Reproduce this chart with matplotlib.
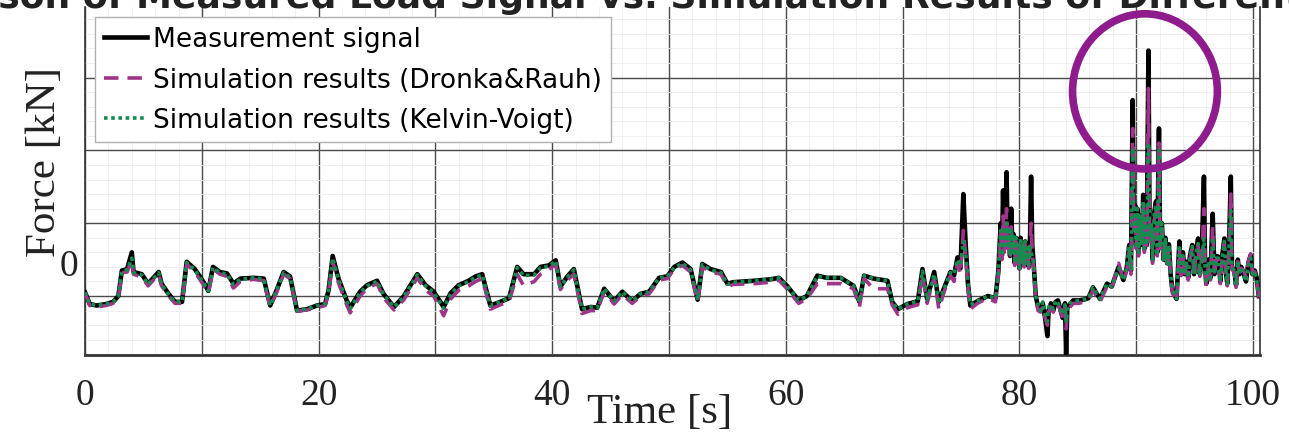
import numpy as np
import matplotlib.pyplot as plt
import matplotlib.transforms as mtransforms
from matplotlib.patches import Ellipse
from matplotlib.ticker import MultipleLocator, FuncFormatter

# time [s]
t = [0.0, 0.4, 1.0, 1.8, 2.4, 2.85, 3.15, 3.6, 4.0, 4.15, 4.85, 5.4, 5.85, 6.3, 6.55, 7.15, 7.7, 8.3, 8.7, 9.4,
     10.15, 10.55, 10.95, 11.55, 12.15, 12.7, 13.3, 14.4, 15.3, 15.85, 16.4, 17.0, 17.55, 18.15, 19.0, 19.85,
     20.55, 20.85, 21.2, 21.7, 22.4, 22.7, 23.55, 24.15, 25.0, 25.55, 26.45, 27.3, 27.6, 28.45, 29.15, 29.85,
     30.7, 31.3, 32.0, 32.85, 33.45, 34.0, 34.7, 35.55, 36.3, 37.0, 37.55, 38.45, 39.0, 39.7,
     40.3, 40.7, 41.3, 41.85, 42.55, 43.3, 43.85, 44.45, 45.3, 46.0, 46.85, 47.55, 48.3, 49.15, 49.85,
     50.45, 51.15, 51.85, 52.45, 52.85, 53.55, 54.45, 55.0, 55.5, 57.3, 58.7, 59.4,
     60.1, 61.1, 61.8, 62.7, 63.5, 64.7, 65.8, 66.3, 66.7, 67.5, 68.7, 69.1, 69.6,
     70.4, 71.3, 71.7, 72.1, 72.7, 73.1, 73.6, 74.1, 74.4, 74.7, 74.95, 75.2, 75.4, 75.6, 75.8, 76.4, 77.3, 77.95,
     78.2, 78.4, 78.5, 78.6, 78.7, 78.8, 78.9, 79.0, 79.1, 79.2, 79.3, 79.4, 79.5, 79.6, 79.7, 79.8, 79.9,
     80.0, 80.1, 80.2, 80.3, 80.4, 80.5, 80.6, 80.7, 80.8, 80.9, 81.0, 81.1, 81.2, 81.4, 81.6, 81.8,
     82.0, 82.2, 82.4, 82.5, 82.7, 82.9, 83.1, 83.3, 83.5, 83.7, 83.9, 84.0, 84.1, 84.3, 84.6,
     85.1, 85.5, 85.9, 86.3, 86.9, 87.5, 87.9, 88.5, 88.9, 89.2, 89.4, 89.55, 89.7, 89.8, 89.9,
     90.0, 90.1, 90.2, 90.35, 90.5, 90.6, 90.7, 90.8, 90.9, 91.05, 91.15, 91.3, 91.4, 91.55, 91.7, 91.8, 91.95,
     92.05, 92.2, 92.35, 92.5, 92.65, 92.8, 92.95, 93.1, 93.45, 93.7, 93.85, 94.0, 94.15, 94.3, 94.45, 94.6,
     94.8, 94.95, 95.1, 95.3, 95.45, 95.6, 95.8, 95.9, 96.0, 96.2, 96.35, 96.55, 96.7, 96.85, 97.05, 97.2,
     97.4, 97.55, 97.7, 97.8, 97.95, 98.1, 98.2, 98.4, 98.55, 98.7, 98.85, 99.0, 99.2, 99.4, 99.6, 99.8,
     99.95, 100.15, 100.3, 100.5]

# measurement signal
f_meas = [0.05, -0.11, -0.13, -0.11, -0.08, 0.0, 0.35, 0.37, 0.6, 0.33, 0.3, 0.17, 0.25, 0.33, 0.17, 0.03, -0.08, -0.08, 0.47, 0.37,
          0.19, 0.07, 0.4, 0.33, 0.31, 0.17, 0.24, 0.25, 0.24, -0.13, 0.08, 0.33, 0.27, -0.2, -0.18, -0.13,
          -0.11, 0.08, 0.55, 0.24, -0.06, -0.16, 0.06, 0.15, 0.21, 0.03, -0.15, 0.0, 0.08, 0.3, 0.15, 0.06,
          -0.15, 0.04, 0.15, 0.21, 0.27, 0.3, -0.13, -0.08, -0.03, 0.4, 0.3, 0.3, 0.4, 0.42,
          0.49, 0.13, 0.27, 0.37, -0.18, -0.15, -0.16, 0.1, -0.07, 0.06, -0.07, 0.03, 0.06, 0.25, 0.27,
          0.4, 0.46, 0.37, -0.05, 0.44, 0.37, 0.33, 0.17, 0.19, 0.21, 0.23, 0.25,
          0.14, -0.06, 0.0, 0.28, 0.25, 0.25, 0.14, -0.08, 0.28, 0.24, 0.21, -0.08, -0.18,
          -0.11, -0.07, 0.37, -0.04, 0.33, -0.08, 0.13, 0.33, 0.28, 0.53, 0.38, 1.4, 0.71, 0.16, -0.13, -0.07, 0.0, -0.03,
          0.35, 1.0, 0.55, 1.45, 0.7, 1.1, 1.7, 0.75, 0.95, 0.55, 1.2, 0.65, 0.85, 0.45, 0.8, 0.5, 0.75,
          0.38, 0.8, 0.48, 0.7, 0.42, 0.75, 0.5, 0.7, 0.4, 0.7, 1.64, 0.7, 0.49, 0.0, -0.15, -0.18,
          -0.1, -0.3, -0.55, -0.2, -0.1, -0.2, -0.08, -0.06, -0.18, -0.3, -0.1, -0.8, -0.15, -0.12, -0.06,
          -0.06, -0.05, -0.03, 0.12, -0.04, 0.17, 0.13, 0.4, 0.22, 0.4, 0.7, 0.35, 2.69, 0.9, 1.25,
          0.7, 1.2, 0.6, 1.1, 0.7, 1.39, 0.65, 1.1, 0.7, 3.37, 0.8, 1.0, 0.5, 1.15, 1.3, 0.6, 2.3,
          0.7, 1.0, 0.5, 0.8, 0.45, 0.71, 0.3, 0.08, -0.04, 0.75, 0.3, 0.6, 0.3, 0.47, 0.25, 0.55,
          0.7, 0.3, 0.6, 0.79, 0.3, 0.5, 1.64, 0.4, 0.17, 0.5, 0.25, 1.13, 0.3, 0.55, 0.54, 0.2,
          0.6, 0.79, 0.3, 0.17, 0.7, 1.64, 0.4, 0.35, 0.15, 0.5, 0.3, 0.4, 0.31, 0.2, 0.45, 0.56,
          0.3, 0.35, 0.26, 0.0]

# simulation (Dronka&Rauh)
f_dronka = [0.04, -0.13, -0.15, -0.13, -0.1, -0.02, 0.32, 0.33, 0.5, 0.3, 0.26, 0.14, 0.22, 0.3, 0.14, 0.0, -0.1, -0.1, 0.44, 0.33,
            0.15, 0.04, 0.37, 0.3, 0.27, 0.11, 0.2, 0.23, 0.21, -0.15, 0.05, 0.3, 0.24, -0.21, -0.19, -0.16,
            -0.13, 0.05, 0.48, 0.18, -0.12, -0.23, 0.0, 0.11, 0.17, -0.02, -0.19, -0.05, 0.03, 0.25, 0.08, 0.0,
            -0.27, -0.04, 0.08, 0.14, 0.2, 0.24, -0.18, -0.12, -0.08, 0.3, 0.14, 0.2, 0.3, 0.36,
            0.44, 0.09, 0.22, 0.3, -0.24, -0.2, -0.2, 0.06, -0.11, 0.02, -0.1, 0.0, 0.03, 0.22, 0.24,
            0.37, 0.42, 0.33, -0.08, 0.4, 0.33, 0.3, 0.13, 0.16, 0.17, 0.19, 0.22,
            0.1, -0.1, -0.04, 0.17, 0.17, 0.17, 0.1, -0.15, 0.24, 0.1, 0.1, -0.12, -0.25,
            -0.16, -0.12, 0.3, -0.1, 0.26, -0.18, 0.08, 0.28, 0.2, 0.45, 0.3, 0.9, 0.55, 0.1, -0.18, -0.1, -0.03, -0.08,
            0.3, 0.85, 0.5, 1.1, 0.6, 0.9, 1.2, 0.65, 0.85, 0.5, 0.95, 0.6, 0.8, 0.42, 0.75, 0.45, 0.7,
            0.35, 0.7, 0.42, 0.65, 0.4, 0.7, 0.45, 0.65, 0.38, 0.65, 1.0, 0.55, 0.45, -0.03, -0.2, -0.22,
            -0.14, -0.3, -0.4, -0.22, -0.15, -0.22, -0.12, -0.1, -0.2, -0.3, -0.15, -0.45, -0.18, -0.16, -0.1,
            -0.1, -0.08, -0.06, 0.08, -0.08, 0.13, 0.1, 0.45, 0.2, 0.35, 0.6, 0.3, 2.3, 0.85, 1.15,
            0.65, 1.1, 0.55, 1.0, 0.65, 1.2, 0.6, 1.0, 0.65, 2.85, 0.75, 0.95, 0.45, 1.05, 1.15, 0.55, 2.1,
            0.65, 0.9, 0.45, 0.75, 0.4, 0.65, 0.25, 0.04, -0.07, 0.65, 0.28, 0.55, 0.27, 0.45, 0.22, 0.5,
            0.65, 0.27, 0.55, 0.7, 0.27, 0.47, 1.2, 0.35, 0.13, 0.45, 0.22, 0.95, 0.27, 0.5, 0.5, 0.17,
            0.55, 0.72, 0.27, 0.14, 0.65, 1.4, 0.37, 0.32, 0.12, 0.47, 0.27, 0.38, 0.35, 0.25, 0.48, 0.58,
            0.32, 0.33, 0.24, -0.02]

# simulation (Kelvin-Voigt)
f_kelvin = [0.05, -0.11, -0.13, -0.11, -0.08, 0.0, 0.34, 0.36, 0.52, 0.32, 0.29, 0.16, 0.24, 0.32, 0.16, 0.02, -0.08, -0.08, 0.46, 0.36,
            0.18, 0.07, 0.39, 0.32, 0.3, 0.16, 0.23, 0.25, 0.23, -0.13, 0.08, 0.32, 0.26, -0.2, -0.18, -0.13,
            -0.11, 0.08, 0.52, 0.23, -0.07, -0.17, 0.05, 0.14, 0.2, 0.02, -0.15, -0.01, 0.07, 0.29, 0.14, 0.05,
            -0.17, 0.03, 0.14, 0.2, 0.26, 0.29, -0.13, -0.08, -0.03, 0.39, 0.28, 0.29, 0.39, 0.41,
            0.48, 0.13, 0.26, 0.36, -0.18, -0.15, -0.16, 0.1, -0.07, 0.06, -0.07, 0.03, 0.06, 0.25, 0.27,
            0.39, 0.45, 0.36, -0.05, 0.43, 0.36, 0.32, 0.16, 0.19, 0.21, 0.23, 0.25,
            0.14, -0.06, 0.0, 0.27, 0.25, 0.25, 0.14, -0.08, 0.28, 0.24, 0.21, -0.08, -0.18,
            -0.11, -0.07, 0.34, -0.05, 0.3, -0.1, 0.12, 0.32, 0.3, 0.5, 0.42, 0.75, 0.6, 0.2, -0.12, -0.07, 0.0, -0.03,
            0.33, 0.9, 0.55, 0.95, 0.65, 0.9, 1.0, 0.7, 0.9, 0.55, 0.9, 0.62, 0.85, 0.45, 0.8, 0.5, 0.75,
            0.38, 0.8, 0.48, 0.7, 0.42, 0.75, 0.5, 0.7, 0.4, 0.7, 0.6, 0.55, 0.5, 0.0, -0.12, -0.2,
            -0.08, -0.25, -0.35, -0.15, -0.12, -0.18, -0.06, -0.1, -0.15, -0.25, -0.12, -0.35, -0.15, -0.1, -0.08,
            -0.06, -0.05, -0.03, 0.12, -0.04, 0.17, 0.13, 0.38, 0.22, 0.4, 0.68, 0.35, 2.03, 0.9, 1.25,
            0.7, 1.2, 0.6, 1.1, 0.7, 1.3, 0.65, 1.1, 0.7, 2.1, 0.8, 1.0, 0.5, 1.15, 1.25, 0.6, 2.0,
            0.7, 1.0, 0.5, 0.8, 0.45, 0.7, 0.3, 0.08, -0.04, 0.7, 0.3, 0.55, 0.3, 0.47, 0.25, 0.52,
            0.68, 0.3, 0.58, 0.72, 0.3, 0.5, 0.79, 0.4, 0.17, 0.48, 0.25, 0.8, 0.3, 0.52, 0.52, 0.2,
            0.58, 0.75, 0.3, 0.17, 0.68, 1.17, 0.4, 0.35, 0.15, 0.48, 0.3, 0.4, 0.3, 0.2, 0.43, 0.52,
            0.3, 0.33, 0.25, 0.0]

x_ticks = [0, 20, 40, 60, 80, 100]

c_meas = 'black'
c_dronka = '#a0338a'
c_kelvin = '#178a4e'
c_circle = '#8e1c8c'

serif = ['Liberation Serif', 'DejaVu Serif']

fig = plt.figure(figsize=(12.89, 4.39), dpi=100)
ax = fig.add_axes([0.066, 0.189, 0.9115, 0.793])

ax.plot(t, f_meas, color=c_meas, lw=3.3, label='Measurement signal', zorder=3)
ax.plot(t, f_dronka, color=c_dronka, lw=2.6, ls=(0, (4, 2.5)), label='Simulation results (Dronka&Rauh)', zorder=4)
ax.plot(t, f_kelvin, color=c_kelvin, lw=2.6, ls=(0, (1, 1)), label='Simulation results (Kelvin-Voigt)', zorder=5)

# highlight of the main peak
ax.add_patch(Ellipse((90.75, 2.81), 12.4, 2.13, fill=False, ec=c_circle, lw=5.5, zorder=6))

ax.set_xlim(0, 100.6)
ax.set_ylim(-0.81, 3.97)

# grid: coarse dark lines and fine light lines
ax.xaxis.set_major_locator(MultipleLocator(10))
ax.xaxis.set_minor_locator(MultipleLocator(2))
ax.xaxis.set_major_formatter(FuncFormatter(lambda v, p: '%d' % v if round(v) in x_ticks else ''))
ax.yaxis.set_major_locator(MultipleLocator(1))
ax.yaxis.set_minor_locator(MultipleLocator(0.2))
ax.yaxis.set_major_formatter(FuncFormatter(lambda v, p: ''))
ax.grid(which='major', color='#4a4a4a', lw=1.0, zorder=1)
ax.grid(which='minor', color='#ececec', lw=0.6, zorder=0)
ax.set_axisbelow(True)
ax.tick_params(which='both', length=0)
ax.tick_params(axis='x', labelsize=27, pad=16)
for lab in ax.get_xticklabels():
    lab.set_fontfamily(serif)
    lab.set_color('#222222')

for s in ['left', 'bottom', 'right']:
    ax.spines[s].set_color('#333333')
ax.spines['bottom'].set_linewidth(2.0)
ax.spines['left'].set_linewidth(1.2)
ax.spines['right'].set_linewidth(1.2)
ax.spines['top'].set_visible(False)

trans = mtransforms.blended_transform_factory(ax.transAxes, ax.transData)
ax.text(-0.006, 0.41, '0', transform=trans, ha='right', va='center', fontsize=27, family=serif, color='#222222')

ax.set_xlabel('Time [s]', fontsize=31, family=serif, va='center', color='#222222')
ax.xaxis.set_label_coords(0.489, -0.164)
ax.set_ylabel('Force [kN]', fontsize=31, family=serif, va='center', color='#222222')
ax.yaxis.set_label_coords(-0.034, 0.557)

leg = ax.legend(loc='upper left', bbox_to_anchor=(0.0085, 0.971), borderaxespad=0, fontsize=19,
                frameon=True, fancybox=False, framealpha=1, edgecolor='#b0b0b0',
                handlelength=1.6, handletextpad=0.25, labelspacing=0.55, borderpad=0.35)
leg.set_zorder(10)

# title of the original figure, cut off at the top edge
fig.text(0.5, 1.005, 'Comparison of Measured Load Signal vs. Simulation Results of Different Models',
         ha='center', va='center', fontsize=26, fontweight='bold', color='#222222')

fig.savefig('out.png', dpi=100)
